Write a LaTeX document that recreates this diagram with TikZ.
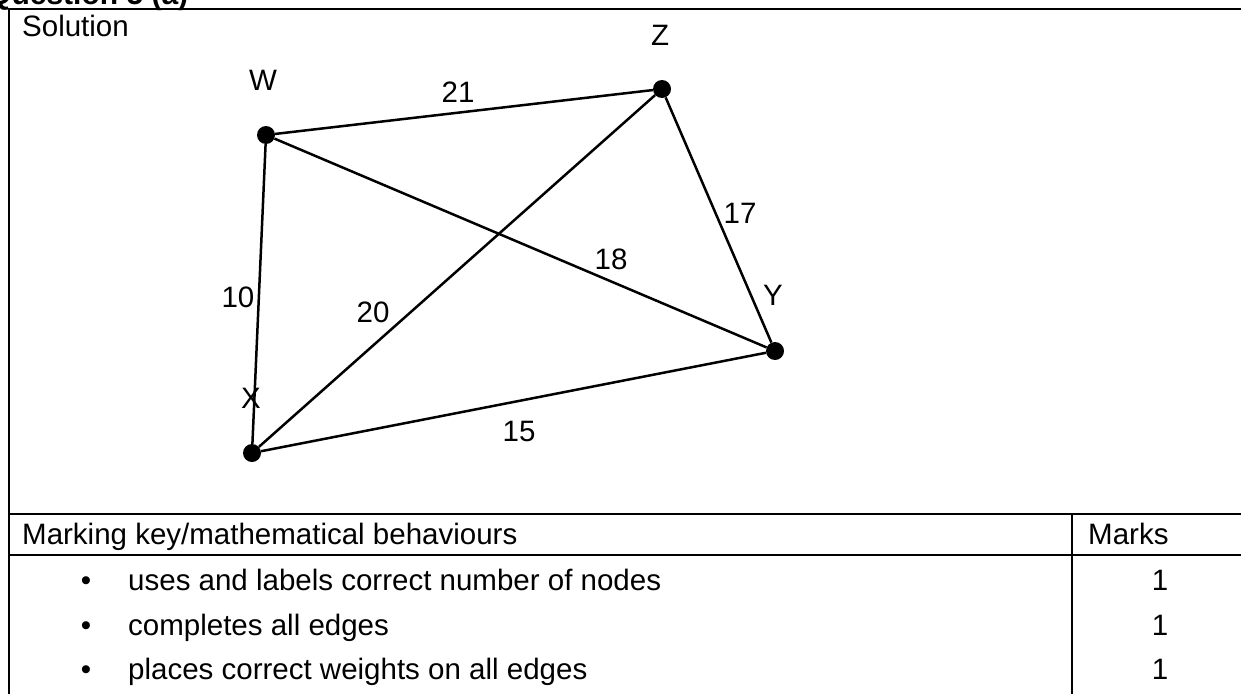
\documentclass[tikz,border=0pt]{standalone}
\usepackage{fontspec}
\setmainfont{Liberation Sans}
\begin{document}
\begin{tikzpicture}[x=1pt,y=-1pt,
  every node/.style={font=\fontsize{29.5}{34}\selectfont, inner sep=0pt},
  rule/.style={line width=2.2pt},
  edge/.style={line width=2.5pt},
  vertex/.style={circle, fill=black, minimum size=18pt, inner sep=0pt},
  txt/.style={anchor=base west},
  lbl/.style={anchor=center}]
\useasboundingbox (0,0) rectangle (1241,693);
\clip (0,0) rectangle (1241,693);
% heading (cut off at top)
\node[txt, font=\fontsize{30}{34}\selectfont\bfseries] (head) at (-12,5) {Question 5 (a)};
% table frame
\draw[rule] (9,700) -- (9,9) -- (1250,9);
\draw[rule] (9,514) -- (1250,514);
\draw[rule] (9,555) -- (1250,555);
\draw[rule] (1072,514) -- (1072,700);
% texts
\node[txt] (sol) at (22,37) {Solution};
\node[txt] (mk) at (22,544) {Marking key/mathematical behaviours};
\node[txt] (marks) at (1088,544) {Marks};
\node[anchor=base] (b1) at (86,590) {\textbullet};
\node[anchor=base] (b2) at (86,635) {\textbullet};
\node[anchor=base] (b3) at (86,679) {\textbullet};
\node[txt] (t1) at (128,590) {uses and labels correct number of nodes};
\node[txt] (t2) at (128,635) {completes all edges};
\node[txt] (t3) at (128,679) {places correct weights on all edges};
\node[anchor=base] (m1) at (1160,590) {1};
\node[anchor=base] (m2) at (1160,635) {1};
\node[anchor=base] (m3) at (1160,679) {1};
% graph
\node[vertex] (W) at (266,135) {};
\node[vertex] (Z) at (662,89) {};
\node[vertex] (Y) at (775,351) {};
\node[vertex] (X) at (252,453) {};
\draw[edge] (W) -- (Z);
\draw[edge] (W) -- (Y);
\draw[edge] (W) -- (X);
\draw[edge] (Z) -- (X);
\draw[edge] (Z) -- (Y);
\draw[edge] (X) -- (Y);
\node[lbl] (lW) at (263,80) {W};
\node[lbl] (lZ) at (660,35) {Z};
\node[lbl] (lY) at (773,295) {Y};
\node[lbl] (lX) at (251,398) {X};
\node[lbl] (w21) at (458,92) {21};
\node[lbl] (w10) at (238,297) {10};
\node[lbl] (w20) at (373,312) {20};
\node[lbl] (w18) at (611,259) {18};
\node[lbl] (w17) at (740,213) {17};
\node[lbl] (w15) at (519,431) {15};
\end{tikzpicture}
\end{document}
